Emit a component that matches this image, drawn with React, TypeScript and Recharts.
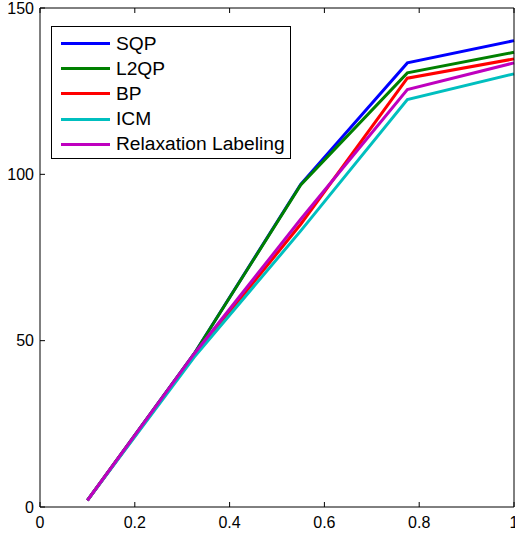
import React from "react";
import { LineChart, Line, XAxis, YAxis } from "recharts";

const xValues = [0.1, 0.325, 0.55, 0.775, 1.0];
const sqp = [2, 46, 97, 133.5, 140.2];
const l2qp = [2, 46, 96.8, 130.5, 136.7];
const bp = [2, 45.5, 85, 128.9, 134.7];
const icm = [2, 45, 83, 122.5, 130.2];
const relax = [2, 46, 86.5, 125.5, 133.5];

const xTicks = [0, 0.2, 0.4, 0.6, 0.8, 1];
const yTicks = [0, 50, 100, 150];

const seriesNames = ["SQP", "L2QP", "BP", "ICM", "Relaxation Labeling"];
const seriesKeys = ["sqp", "l2qp", "bp", "icm", "relax"];
const seriesColors = ["#0000FF", "#008000", "#FF0000", "#00BFBF", "#BF00BF"];

const data = xValues.map((x, i) => ({
  x,
  sqp: sqp[i],
  l2qp: l2qp[i],
  bp: bp[i],
  icm: icm[i],
  relax: relax[i],
}));

const FONT = "'Liberation Sans', Arial, Helvetica, sans-serif";

const fmt = (v: number) => String(Math.round(v * 10) / 10);

const BottomTick = (props: any) => {
  const { x, y, payload } = props;
  return (
    <g>
      <line x1={x} x2={x} y1={y} y2={y - 5} stroke="#000" strokeWidth={1} />
      <text x={x} y={y + 15} textAnchor="middle" dominantBaseline="central" fontSize={16} fontFamily={FONT} fill="#000">
        {fmt(payload.value)}
      </text>
    </g>
  );
};

const TopTick = (props: any) => {
  const { x, y } = props;
  return <line x1={x} x2={x} y1={y} y2={y + 5} stroke="#000" strokeWidth={1} />;
};

const LeftTick = (props: any) => {
  const { x, y, payload } = props;
  return (
    <g>
      <line x1={x} x2={x + 5} y1={y} y2={y} stroke="#000" strokeWidth={1} />
      <text x={x - 6} y={y} textAnchor="end" dominantBaseline="central" fontSize={16} fontFamily={FONT} fill="#000">
        {fmt(payload.value)}
      </text>
    </g>
  );
};

const RightTick = (props: any) => {
  const { x, y } = props;
  return <line x1={x} x2={x - 5} y1={y} y2={y} stroke="#000" strokeWidth={1} />;
};

const LegendBox = () => (
  <div
    style={{
      position: "absolute",
      left: 51,
      top: 26,
      border: "1px solid #000",
      background: "#fff",
      width: 238,
      height: 127,
      boxSizing: "content-box",
      paddingTop: 4,
      fontFamily: FONT,
    }}
  >
    {seriesNames.map((name, i) => (
      <div key={name} style={{ display: "flex", alignItems: "center", height: 25.2, marginLeft: 9 }}>
        <div style={{ width: 49, height: 3, background: seriesColors[i] }} />
        <span style={{ marginLeft: 6, fontSize: 19.2, color: "#000", lineHeight: "20px" }}>{name}</span>
      </div>
    ))}
  </div>
);

export default function App() {
  return (
    <div style={{ position: "absolute", left: 0, top: 0, width: 515, height: 533, background: "#fff" }}>
      <LineChart width={515} height={533} data={data} margin={{ top: 0, right: 0, bottom: 0, left: 0 }}>
        <XAxis
          dataKey="x"
          type="number"
          domain={[0, 1]}
          ticks={xTicks}
          tickSize={0}
          tickMargin={0}
          height={26}
          tick={<BottomTick />}
          axisLine={{ stroke: "#000" }}
          interval={0}
        />
        <XAxis
          xAxisId="top"
          orientation="top"
          dataKey="x"
          type="number"
          domain={[0, 1]}
          ticks={xTicks}
          tickSize={0}
          tickMargin={0}
          height={8}
          tick={<TopTick />}
          axisLine={{ stroke: "#000" }}
          interval={0}
        />
        <YAxis
          type="number"
          domain={[0, 150]}
          ticks={yTicks}
          tickSize={0}
          tickMargin={0}
          width={40}
          tick={<LeftTick />}
          axisLine={{ stroke: "#000" }}
          interval={0}
        />
        <YAxis
          yAxisId="right"
          orientation="right"
          type="number"
          domain={[0, 150]}
          ticks={yTicks}
          tickSize={0}
          tickMargin={0}
          width={1}
          tick={<RightTick />}
          axisLine={{ stroke: "#000" }}
          interval={0}
        />
        {seriesKeys.map((k, i) => (
          <Line
            key={k}
            type="linear"
            dataKey={k}
            name={seriesNames[i]}
            stroke={seriesColors[i]}
            strokeWidth={3}
            dot={false}
            activeDot={false}
            isAnimationActive={false}
          />
        ))}
      </LineChart>
      <LegendBox />
    </div>
  );
}
